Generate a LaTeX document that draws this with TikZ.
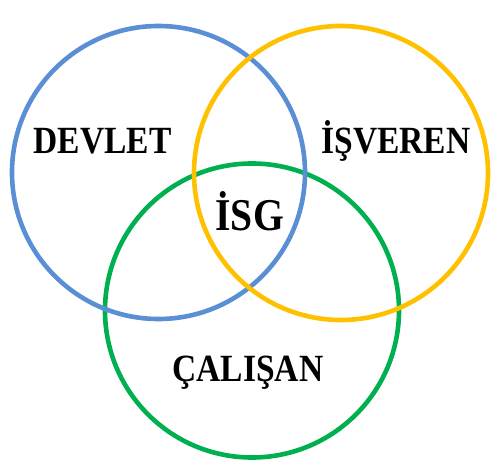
\documentclass[tikz,border=0pt]{standalone}
\usepackage{fontspec}
\setmainfont{Liberation Serif}[FakeStretch=0.87]
\definecolor{cblue}{HTML}{5B8FD5}
\definecolor{cyellow}{HTML}{FFC000}
\definecolor{cgreen}{HTML}{00B050}
\tikzset{
  ring/.style={line width=4.6pt},
  lbl/.style={anchor=base, inner sep=0pt, font=\bfseries\fontsize{38.5}{40}\selectfont},
  biglbl/.style={anchor=base, inner sep=0pt, font=\bfseries\fontsize{45.5}{48}\selectfont}
}
\begin{document}
\begin{tikzpicture}[x=1pt,y=-1pt]
\useasboundingbox (0,0) rectangle (500,468);
\draw[ring, cgreen] (252,310.5) circle[radius=147];
\draw[ring, cblue] (158.5,172.5) circle[radius=146.5];
\draw[ring, cyellow] (341,173) circle[radius=147];
\node[lbl] (devlet) at (102.5,153) {DEVLET};
\node[lbl] (isveren) at (396,153) {İŞVEREN};
\node[biglbl] (isg) at (249.7,230) {İSG};
\node[lbl] (calisan) at (248,381.7) {ÇALIŞAN};
\end{tikzpicture}
\end{document}
